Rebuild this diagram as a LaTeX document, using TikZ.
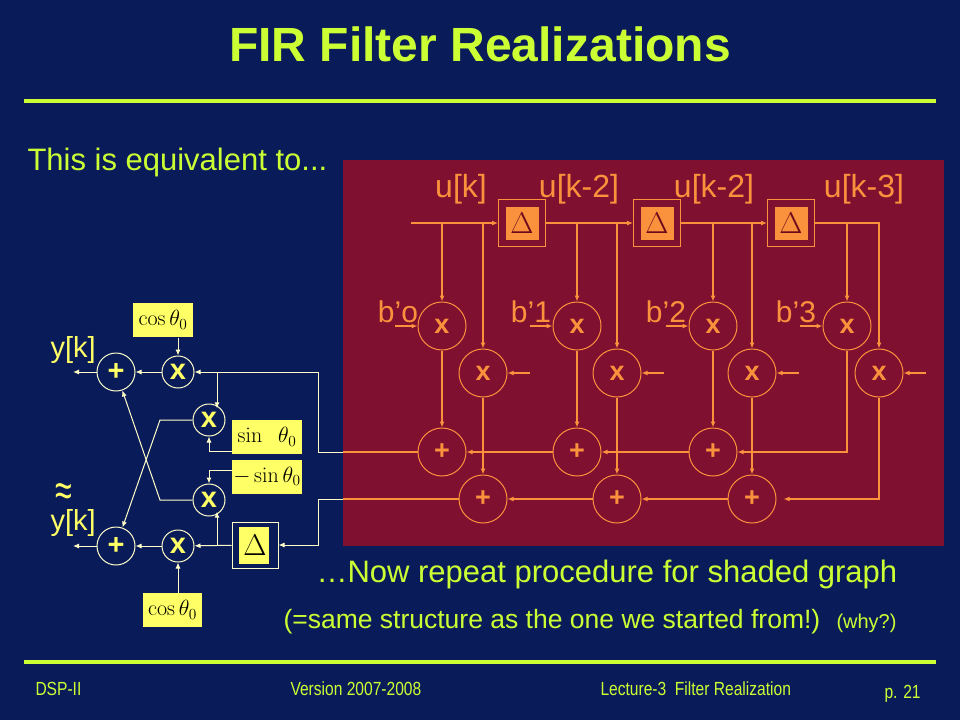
\RequirePackage{fix-cm}
\documentclass[tikz,border=0pt]{standalone}
\usepackage[no-math]{fontspec}
\setmainfont{Liberation Sans}
\usetikzlibrary{arrows.meta}
\definecolor{slide}{RGB}{10,27,90}
\definecolor{lime}{RGB}{204,255,51}
\definecolor{firred}{RGB}{128,16,48}
\definecolor{org}{RGB}{250,145,60}
\definecolor{deepred}{RGB}{110,10,30}
\definecolor{ylw}{RGB}{255,255,102}
\definecolor{pale}{RGB}{255,255,200}
\newcommand{\fsz}[1]{\fontsize{#1}{#1}\selectfont}
\newcommand{\nar}[1]{\scalebox{0.82}[1]{#1}}

\begin{document}
\begin{tikzpicture}[x=1pt,y=-1pt,>={Latex[length=6pt,width=5pt]},line width=1pt,
    txt/.style={inner sep=0pt,anchor=base west},
    mulO/.style={circle,draw=org,minimum size=48pt,inner sep=0pt,text=org,font=\bfseries\fsz{27}},
    addO/.style={mulO},
    mulY/.style={circle,draw=pale,minimum size=32pt,inner sep=0pt,text=ylw,font=\bfseries\fsz{29}},
    addY/.style={mulY,minimum size=38pt},
    coefY/.style={fill=ylw,text=black,inner sep=0pt,minimum height=34pt,font=\fsz{22}},
    dlyO/.style={draw=org,minimum size=47pt,inner sep=0pt,text=deepred,font=\fsz{30},
        path picture={\fill[org] ([shift={(7pt,7pt)}]path picture bounding box.south west)
            rectangle ([shift={(-7pt,-7pt)}]path picture bounding box.north east);}},
    dlyY/.style={draw=pale,minimum size=46pt,inner sep=0pt,text=black,font=\fsz{30},
        path picture={\fill[ylw] ([shift={(7pt,4pt)}]path picture bounding box.south west)
            rectangle ([shift={(-9pt,-5pt)}]path picture bounding box.north east);}},
    wireO/.style={draw=org,line width=1.2pt},
    wireY/.style={draw=pale}]
    \useasboundingbox (0,0) rectangle (960,720);
    \fill[slide] (0,0) rectangle (960,720);

    % title and rules
    \node[text=lime,font=\bfseries\fsz{48},inner sep=0pt] (title) at (480,44) {FIR Filter Realizations};
    \draw[lime,line width=4pt] (24,101) -- (936,101);
    \draw[lime,line width=4pt] (24,662) -- (936,662);
    \node[txt,text=lime,font=\fsz{31}] (intro) at (27,170) {This is equivalent to...};

    % shaded graph
    \fill[firred] (343,160) rectangle (944,546);
    \foreach \x/\t [count=\n] in {461/{u[k]},579/{u[k-2]},714/{u[k-2]},864/{u[k-3]}}
        \node[txt,anchor=base,text=org,font=\fsz{32}] (lu\n) at (\x,197) {\t};
    \foreach \x/\t [count=\n] in {398/{b’o},531/{b’1},666/{b’2},796/{b’3}}
        \node[txt,anchor=base,text=org,font=\fsz{30}] (lb\n) at (\x,322) {\t};
    \foreach \i/\xu/\xl in {0/442/483,1/577/617,2/713/752,3/847/879}{
        \node[mulO] (mu\i) at (\xu,326) {x};
        \node[mulO] (ml\i) at (\xl,373) {x};
        \coordinate (cu\i) at (\xu-47,326);
        \coordinate (cl\i) at (\xl+47,373);
        \draw[wireO,->] (cu\i) -- (mu\i);
        \draw[wireO,->] (cl\i) -- (ml\i);
    }
    \foreach \i/\x in {0/522,1/657,2/791}
        \node[dlyO] (d\i) at (\x,223) {$\Delta$};
    \foreach \i/\xu/\xl in {0/442/483,1/577/617,2/713/752}{
        \node[addO] (au\i) at (\xu,452) {+};
        \node[addO] (al\i) at (\xl,499) {+};
        \draw[wireO,->] (mu\i) -- (au\i);
        \draw[wireO,->] (ml\i) -- (al\i);
    }
    \coordinate (uin) at (411,223);
    \draw[wireO,->] (uin) -- (d0);
    \draw[wireO,->] (d0) -- (d1);
    \draw[wireO,->] (d1) -- (d2);
    \draw[wireO,->] (d2) -| (ml3);
    \foreach \i in {0,1,2,3}
        \draw[wireO,->] (mu\i |- uin) -- (mu\i);
    \foreach \i in {0,1,2}
        \draw[wireO,->] (ml\i |- uin) -- (ml\i);
    \draw[wireO,->] (mu3) |- (au2);
    \coordinate (al2r) at ([xshift=7pt]al2.east);
    \draw[wireO,->] (ml3) |- (al2r);
    \draw[wireO,->] (au2) -- (au1);
    \draw[wireO,->] (au1) -- (au0);
    \draw[wireO,->] (al2) -- (al1);
    \draw[wireO,->] (al1) -- (al0);
    \coordinate (topOut) at (343,452);
    \coordinate (botOut) at (343,499);
    \draw[wireO] (au0) -- (topOut);
    \draw[wireO] (al0) -- (botOut);

    % rotation section
    \node[addY] (sumA) at (116,372) {+};
    \node[mulY] (mulA) at (178,372) {x};
    \node[mulY] (mulB) at (209,420) {x};
    \node[mulY] (mulC) at (209,500) {x};
    \node[addY] (sumB) at (116,546) {+};
    \node[mulY] (mulD) at (178,546) {x};
    \node[coefY,minimum width=60pt] (cosA) at (163,320) {$\cos\theta_0$};
    \node[coefY,minimum width=70pt] (sinB) at (267,437) {$\sin\ \ \theta_0$};
    \node[coefY,minimum width=70pt] (sinC) at (267,476.5) {$-\sin\theta_0$};
    \node[coefY,minimum width=59pt] (cosD) at (172.5,610) {$\cos\theta_0$};
    \node[dlyY] (delD) at (255,545) {$\Delta$};
    \node[txt,text=ylw,font=\fsz{29}] (yA) at (50,357) {y[k]};
    \node[txt,text=ylw,font=\fsz{29}] (yB) at (50,530) {\rlap{\hspace{5pt}\raisebox{24pt}{\scalebox{1.05}[1.6]{≈}}}y[k]};
    \coordinate (outA) at (73,372);
    \coordinate (outB) at (73,546);
    \coordinate (brA) at (217,372);
    \coordinate (brD) at (217,546);

    \draw[wireY,->] (topOut) -- (318,452) |- (mulA);
    \draw[wireY,->] (botOut) -- (318,499) |- (delD);
    \draw[wireY,->] (delD) -- (mulD);
    \draw[wireY,->] (brA) -- (brA |- mulB.north east);
    \draw[wireY,->] (brD) -- (brD |- mulC.south east);
    \draw[wireY,->] ([yshift=-14pt]sinB.west) -| (mulB);
    \draw[wireY,->] ([yshift=6pt]sinC.west) -| (mulC);
    \draw[wireY,->] (cosA.south -| mulA) -- (mulA);
    \draw[wireY,->] (cosD.north -| mulD) -- (mulD);
    \draw[wireY,->] (mulB) -- (160,420) -- (sumB);
    \draw[wireY,->] (mulC) -- (160,500) -- (sumA);
    \draw[wireY,->] (mulA) -- (sumA);
    \draw[wireY,->] (mulD) -- (sumB);
    \draw[wireY,->] (sumA) -- (outA);
    \draw[wireY,->] (sumB) -- (outB);

    % notes and footer
    \node[txt,text=lime,font=\fsz{31}] (note) at (316,582) {…Now repeat procedure for shaded graph};
    \node[txt,text=lime,font=\fsz{26.5}] (same) at (283,628) {(=same structure as the one we started from!)};
    \node[txt,text=lime,font=\fsz{20}] (why) at (836,628) {(why?)};
    \node[txt,text=lime,font=\fsz{19}] (fA) at (35,695) {\nar{DSP-II}};
    \node[txt,text=lime,font=\fsz{19}] (fB) at (290,695) {\nar{Version 2007-2008}};
    \node[txt,text=lime,font=\fsz{19}] (fC) at (600,695) {\nar{Lecture-3\ \ Filter Realization}};
    \node[txt,text=lime,font=\fsz{19}] (fD) at (884,698) {\nar{p. 21}};
\end{tikzpicture}
\end{document}
